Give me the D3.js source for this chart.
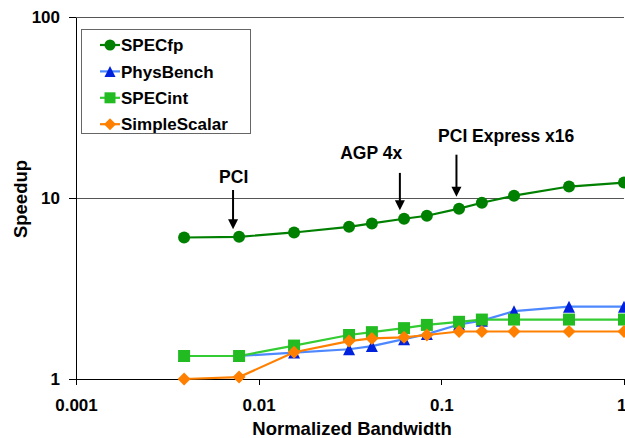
<!DOCTYPE html>
<html>
<head>
<meta charset="utf-8">
<script src="https://cdn.jsdelivr.net/npm/d3@7/dist/d3.min.js"></script>
<style>
  html, body { margin: 0; padding: 0; background: #fff; }
  svg { display: block; font-family: "Liberation Sans", Arial, sans-serif; font-weight: bold; }
</style>
</head>
<body>
<svg id="chart" width="625" height="438"></svg>
<script>
// Normalized bandwidth (x) shared by all benchmarks
const bandwidth = [1/256, 1/128, 1/64, 1/32, 1/24, 1/16, 1/12, 1/8, 1/6, 1/4, 1/2, 1];

// Speedup per benchmark suite
const specfp       = [6.05, 6.1, 6.45, 6.93, 7.24, 7.68, 7.98, 8.73, 9.42, 10.3, 11.57, 12.17];
const physbench    = [1.34, 1.34, 1.40, 1.46, 1.52, 1.66, 1.77, 2.0, 2.1, 2.37, 2.51, 2.51];
const specint      = [1.34, 1.34, 1.53, 1.75, 1.815, 1.91, 1.99, 2.07, 2.13, 2.13, 2.13, 2.13];
const simplescalar = [1.0, 1.025, 1.405, 1.62, 1.675, 1.70, 1.75, 1.83, 1.83, 1.83, 1.83, 1.83];

const seriesNames = ["SPECfp", "PhysBench", "SPECint", "SimpleScalar"];
const xTicks = [0.001, 0.01, 0.1, 1];
const xTickLabels = ["0.001", "0.01", "0.1", "1"];
const yTicks = [1, 10, 100];
const yTickLabels = ["1", "10", "100"];

// Interface annotations: label, x position, arrow top / tip and label baseline (speedup units)
const annoLabels = ["PCI", "AGP 4x", "PCI Express x16"];
const annoX      = [0.00724, 0.0593, 0.121];
const annoLabelX = [0.0073, 0.0413, 0.2265];
const annoTop    = [11.07, 13.76, 17.35];
const annoTip    = [6.71, 8.56, 10.15];
const annoBase   = [12.06, 16.34, 20.34];

// Marker shapes, all centred on their bounding box (s = full width)
const shapes = {
  circle:   s => `M${s / 2},0A${s / 2},${s / 2} 0 1,1 ${-s / 2},0A${s / 2},${s / 2} 0 1,1 ${s / 2},0Z`,
  triangle: s => `M0,${-s / 2}L${s / 2},${s / 2}L${-s / 2},${s / 2}Z`,
  square:   s => `M${-s / 2},${-s / 2}H${s / 2}V${s / 2}H${-s / 2}Z`,
  diamond:  s => `M0,${-s / 2}L${s / 2},0L0,${s / 2}L${-s / 2},0Z`
};

const styles = [
  { line: "#008000", fill: "#008000", shape: "circle",   size: 12 },
  { line: "#4d88ff", fill: "#0022dd", shape: "triangle", size: 12 },
  { line: "#33cc33", fill: "#22bb22", shape: "square",   size: 12 },
  { line: "#ff8000", fill: "#ff8000", shape: "diamond",  size: 13 }
];
const values = [specfp, physbench, specint, simplescalar];

const svg = d3.select("#chart");
const x = d3.scaleLog().domain([0.001, 1]).range([76, 624]);
const y = d3.scaleLog().domain([1, 100]).range([379, 17]);

// Horizontal gridlines
svg.append("g").selectAll("line").data(yTicks.slice(1)).join("line")
  .attr("x1", x(0.001)).attr("x2", x(1))
  .attr("y1", d => y(d)).attr("y2", d => y(d))
  .attr("stroke", "#555").attr("stroke-width", 1).attr("shape-rendering", "crispEdges");

// Axes
const xAxis = d3.axisBottom(x).tickValues(xTicks).tickFormat((d, i) => xTickLabels[i]).tickSizeInner(6).tickSizeOuter(0);
const gx = svg.append("g").attr("transform", `translate(0,${y(1)})`).call(xAxis);
gx.select(".domain").attr("stroke", "#000").attr("shape-rendering", "crispEdges");
gx.selectAll(".tick line").attr("stroke", "#000").attr("shape-rendering", "crispEdges");
gx.selectAll(".tick text").attr("font-size", 17).attr("font-family", "Liberation Sans, Arial, sans-serif")
  .attr("font-weight", "bold").attr("fill", "#000").attr("y", 20).attr("dy", "0.71em")
  .attr("text-anchor", d => d === 1 ? "end" : "middle")
  .attr("x", d => d === 1 ? 2 : 0);

const yAxis = d3.axisLeft(y).tickValues(yTicks).tickFormat((d, i) => yTickLabels[i]).tickSizeInner(7).tickSizeOuter(0);
const gy = svg.append("g").attr("transform", `translate(${x(0.001)},0)`).call(yAxis);
gy.select(".domain").attr("stroke", "#000").attr("shape-rendering", "crispEdges");
gy.selectAll(".tick line").attr("stroke", "#000").attr("shape-rendering", "crispEdges");
gy.selectAll(".tick text").attr("font-size", 17).attr("font-family", "Liberation Sans, Arial, sans-serif")
  .attr("font-weight", "bold").attr("fill", "#000").attr("x", -16).attr("dy", "0.35em");

// Axis titles
svg.append("text").attr("x", 352).attr("y", 435).attr("text-anchor", "middle")
  .attr("font-size", 18.5).text("Normalized Bandwidth");
svg.append("text").attr("transform", "translate(27,199) rotate(-90)").attr("text-anchor", "middle")
  .attr("font-size", 18.5).text("Speedup");

// Series lines and markers
const line = d3.line().x((d, i) => x(bandwidth[i])).y(d => y(d));
values.forEach((vals, k) => {
  const g = svg.append("g");
  g.append("path").datum(vals).attr("d", line)
    .attr("fill", "none").attr("stroke", styles[k].line).attr("stroke-width", 2.2);
  g.selectAll("path.m").data(vals).join("path").attr("class", "m")
    .attr("transform", (d, i) => `translate(${x(bandwidth[i])},${y(d)})`)
    .attr("d", shapes[styles[k].shape](styles[k].size))
    .attr("fill", styles[k].fill);
});

// Annotations with arrows
const ann = svg.append("g");
annoLabels.forEach((lab, i) => {
  ann.append("text").attr("x", x(annoLabelX[i])).attr("y", y(annoBase[i]))
    .attr("text-anchor", "middle").attr("font-size", 17.5).text(lab);
  const ax = x(annoX[i]), top = y(annoTop[i]), tip = y(annoTip[i]);
  ann.append("line").attr("x1", ax).attr("x2", ax).attr("y1", top).attr("y2", tip - 8)
    .attr("stroke", "#000").attr("stroke-width", 2);
  ann.append("path").attr("d", `M${ax - 5},${tip - 10}L${ax + 5},${tip - 10}L${ax},${tip}Z`).attr("fill", "#000");
});

// Legend
const leg = svg.append("g");
leg.append("rect").attr("x", 81.5).attr("y", 29.5).attr("width", 169).attr("height", 104)
  .attr("fill", "#fff").attr("stroke", "#666").attr("stroke-width", 1);
seriesNames.forEach((name, k) => {
  const cy = 45 + k * 26.4;
  leg.append("line").attr("x1", 100).attr("x2", 120).attr("y1", cy).attr("y2", cy)
    .attr("stroke", styles[k].line).attr("stroke-width", 2.2);
  leg.append("path").attr("transform", `translate(110,${cy})`)
    .attr("d", shapes[styles[k].shape](styles[k].size - 1))
    .attr("fill", styles[k].fill);
  leg.append("text").attr("x", 121).attr("y", cy).attr("dy", "0.36em")
    .attr("font-size", 17).text(name);
});
</script>
</body>
</html>
